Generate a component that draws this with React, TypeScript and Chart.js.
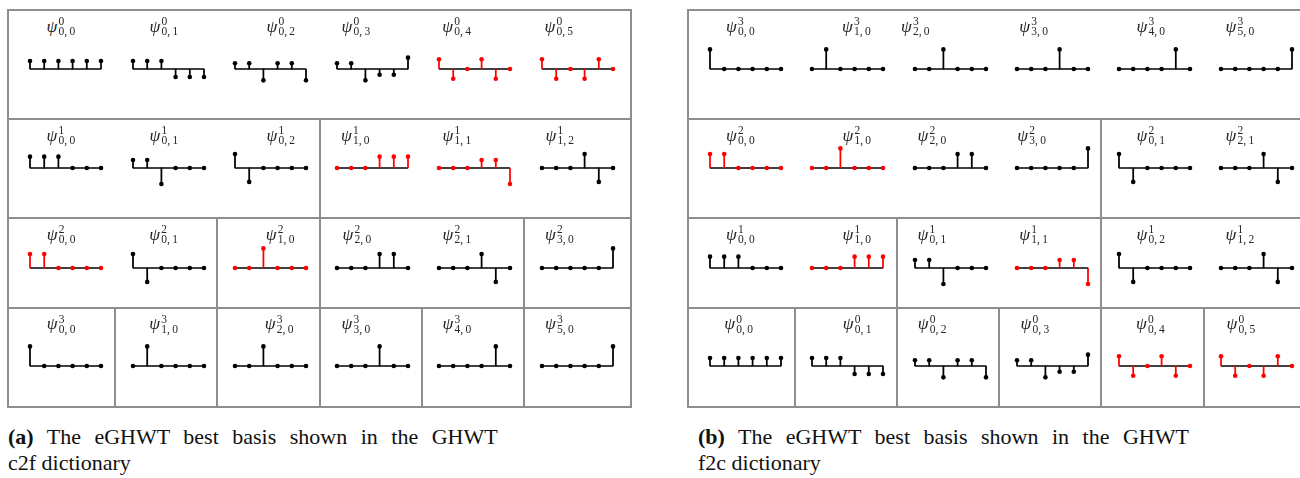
import React, { useEffect, useRef } from "react";
import { Chart, registerables } from "chart.js";

Chart.register(...registerables);

// ---------- data: sample indices and basis vectors ----------
const INDICES = ["1", "2", "3", "4", "5", "6"];

const psi0_00 = [0.41, 0.41, 0.41, 0.41, 0.41, 0.41];
const psi0_01 = [0.41, 0.41, 0.41, -0.41, -0.41, -0.41];
const psi0_02 = [0.29, 0.29, -0.58, 0.29, 0.29, -0.58];
const psi0_03 = [0.29, 0.29, -0.58, -0.29, -0.29, 0.58];
const psi0_04 = [0.5, -0.5, 0, 0.5, -0.5, 0];
const psi0_05 = [0.5, -0.5, 0, -0.5, 0.5, 0];

const psi1_00 = [0.58, 0.58, 0.58, 0, 0, 0];
const psi1_01 = [0.41, 0.41, -0.82, 0, 0, 0];
const psi1_02 = [0.71, -0.71, 0, 0, 0, 0];
const psi1_10 = [0, 0, 0, 0.58, 0.58, 0.58];
const psi1_11 = [0, 0, 0, 0.41, 0.41, -0.82];
const psi1_12 = [0, 0, 0, 0.71, -0.71, 0];

const psi2_00 = [0.71, 0.71, 0, 0, 0, 0];
const psi2_01 = [0.71, -0.71, 0, 0, 0, 0];
const psi2_10 = [0, 0, 1, 0, 0, 0];
const psi2_20 = [0, 0, 0, 0.71, 0.71, 0];
const psi2_21 = [0, 0, 0, 0.71, -0.71, 0];
const psi2_30 = [0, 0, 0, 0, 0, 1];

const psi3_00 = [1, 0, 0, 0, 0, 0];
const psi3_10 = [0, 1, 0, 0, 0, 0];
const psi3_20 = [0, 0, 1, 0, 0, 0];
const psi3_30 = [0, 0, 0, 1, 0, 0];
const psi3_40 = [0, 0, 0, 0, 1, 0];
const psi3_50 = [0, 0, 0, 0, 0, 1];

// the eGHWT best basis (drawn in red)
const BEST_BASIS = ["0|0,4", "0|0,5", "1|1,0", "1|1,1", "2|0,0", "2|1,0"];

const BASIS: Record<string, number[]> = {
  "0|0,0": psi0_00, "0|0,1": psi0_01, "0|0,2": psi0_02, "0|0,3": psi0_03, "0|0,4": psi0_04, "0|0,5": psi0_05,
  "1|0,0": psi1_00, "1|0,1": psi1_01, "1|0,2": psi1_02, "1|1,0": psi1_10, "1|1,1": psi1_11, "1|1,2": psi1_12,
  "2|0,0": psi2_00, "2|0,1": psi2_01, "2|1,0": psi2_10, "2|2,0": psi2_20, "2|2,1": psi2_21, "2|3,0": psi2_30,
  "3|0,0": psi3_00, "3|1,0": psi3_10, "3|2,0": psi3_20, "3|3,0": psi3_30, "3|4,0": psi3_40, "3|5,0": psi3_50,
};

// row contents of each dictionary view
const C2F_ROWS = [
  ["0|0,0", "0|0,1", "0|0,2", "0|0,3", "0|0,4", "0|0,5"],
  ["1|0,0", "1|0,1", "1|0,2", "1|1,0", "1|1,1", "1|1,2"],
  ["2|0,0", "2|0,1", "2|1,0", "2|2,0", "2|2,1", "2|3,0"],
  ["3|0,0", "3|1,0", "3|2,0", "3|3,0", "3|4,0", "3|5,0"],
];
const F2C_ROWS = [
  ["3|0,0", "3|1,0", "3|2,0", "3|3,0", "3|4,0", "3|5,0"],
  ["2|0,0", "2|1,0", "2|2,0", "2|3,0", "2|0,1", "2|2,1"],
  ["1|0,0", "1|1,0", "1|0,1", "1|1,1", "1|0,2", "1|1,2"],
  ["0|0,0", "0|0,1", "0|0,2", "0|0,3", "0|0,4", "0|0,5"],
];

// ---------- layout (pixels) ----------
const GRID_COLOR = "#8e8e8e";
const ROW_TOPS = [10, 119, 218, 307.5];
const PANEL_BOTTOM = 406.5;
const BASELINES = [69, 168.3, 267.5, 365.7];
const COL_X = [22.3, 124.8, 227.2, 329, 431, 533.6];
const DIVIDER_X = [107, 209, 311.5, 413.5, 516];
const PANEL_W = 623;

const C2F_DIVIDERS = [[], [2], [1, 2, 4], [0, 1, 2, 3, 4]];
const F2C_DIVIDERS = [[], [3], [1, 3], [0, 1, 2, 3, 4]];
const C2F_LABEL_DX = [
  [16.7, 17.3, 31.7, 5, 3.7, 3.3],
  [16.7, 17.3, 31.7, 4.4, 4, 4.3],
  [17, 17, 31, 6, 4, 4],
  [17, 17, 30, 5, 4, 4],
];
const F2C_LABEL_DX = [
  [16.7, 30.3, -13.3, 3.3, 18.4, 5],
  [16.7, 30.6, 3.3, 1.3, 18.4, 5],
  [16.7, 30.6, 3.3, 3.3, 18.4, 5],
  [15, 31, 3.5, 4.5, 18, 6],
];

const SPAN = 71; // width from first to last sample
const PAD = 4;
const PX_PER_UNIT = 19.6;
const AREA_H = 44;
const YMAX = AREA_H / 2 / PX_PER_UNIT;
const CW = SPAN + 2 * PAD;
const CH = AREA_H + 2 * PAD;

function StemPlot({ values, color, x, baseline }: { values: number[]; color: string; x: number; baseline: number }) {
  const ref = useRef<HTMLCanvasElement>(null);
  useEffect(() => {
    const chart = new Chart(ref.current as HTMLCanvasElement, {
      type: "bar",
      data: {
        labels: INDICES,
        datasets: [
          {
            type: "line",
            data: values,
            showLine: false,
            pointRadius: 2.3,
            pointBorderWidth: 0,
            pointBackgroundColor: color,
            borderColor: color,
            order: 0,
            clip: false,
          } as any,
          {
            type: "bar",
            data: values,
            backgroundColor: color,
            borderWidth: 0,
            barThickness: 1.1,
            order: 1,
            clip: false,
          } as any,
          {
            type: "line",
            data: values.map(() => 0),
            borderColor: "#000",
            borderWidth: 1.3,
            pointRadius: 0,
            order: 2,
            clip: false,
          } as any,
        ],
      },
      options: {
        responsive: false,
        animation: false,
        events: [],
        layout: { padding: PAD },
        plugins: { legend: { display: false }, tooltip: { enabled: false } },
        scales: {
          x: { display: false, offset: false, grid: { offset: false } },
          y: { display: false, min: -YMAX, max: YMAX },
        },
      },
    });
    return () => chart.destroy();
  }, []);
  return (
    <canvas
      ref={ref}
      width={CW}
      height={CH}
      style={{ position: "absolute", left: Math.round(x - PAD), top: Math.round(baseline - CH / 2), width: CW, height: CH }}
    />
  );
}

function PsiLabel({ id, x, rowTop }: { id: string; x: number; rowTop: number }) {
  const [lvl, sub] = id.split("|");
  const [k, l] = sub.split(",");
  const base: React.CSSProperties = { position: "absolute", whiteSpace: "nowrap", color: "#262626", fontFamily: "'Liberation Serif', serif" };
  return (
    <>
      <span style={{ ...base, left: x - 0.5, top: rowTop + 8.5, fontSize: 17.5, lineHeight: "15px", fontStyle: "italic" }}>ψ</span>
      <span style={{ ...base, left: x + 11.5, top: rowTop + 6, fontSize: 11.5, lineHeight: "11px" }}>{lvl}</span>
      <span style={{ ...base, left: x + 11.5, top: rowTop + 16, fontSize: 11.5, lineHeight: "11px" }}>
        {k},{"\u2009"}{l}
      </span>
    </>
  );
}

function Panel({ left, rows, dividers, labelDx }: { left: number; rows: string[][]; dividers: number[][]; labelDx: number[][] }) {
  const items: React.ReactNode[] = [];
  items.push(
    <div
      key="frame"
      style={{
        position: "absolute",
        left: left - 1,
        top: ROW_TOPS[0] - 1,
        width: PANEL_W + 2,
        height: PANEL_BOTTOM - ROW_TOPS[0] + 2,
        border: `2px solid ${GRID_COLOR}`,
        boxSizing: "border-box",
      }}
    />
  );
  ROW_TOPS.forEach((top, r) => {
    if (r > 0) {
      items.push(
        <div key={`h${r}`} style={{ position: "absolute", left: left, top: top - 1, width: PANEL_W, height: 2, background: GRID_COLOR }} />
      );
    }
    const bottom = r < ROW_TOPS.length - 1 ? ROW_TOPS[r + 1] : PANEL_BOTTOM;
    dividers[r].forEach((d) => {
      items.push(
        <div
          key={`v${r}-${d}`}
          style={{ position: "absolute", left: left + DIVIDER_X[d] - 1, top: top, width: 2, height: bottom - top, background: GRID_COLOR }}
        />
      );
    });
    rows[r].forEach((id, c) => {
      const x = left + COL_X[c];
      const color = BEST_BASIS.includes(id) ? "#ff0000" : "#000000";
      items.push(<StemPlot key={`p${r}-${c}`} values={BASIS[id]} color={color} x={x} baseline={BASELINES[r]} />);
      items.push(<PsiLabel key={`l${r}-${c}`} id={id} x={x + labelDx[r][c]} rowTop={top} />);
    });
  });
  return <>{items}</>;
}

function Caption({ left, tag, line1, line2 }: { left: number; tag: string; line1: string; line2: string }) {
  return (
    <div
      style={{
        position: "absolute",
        left,
        top: 424,
        fontFamily: "'Liberation Serif', 'Times New Roman', serif",
        fontSize: 22,
        lineHeight: "26px",
        color: "#111",
        whiteSpace: "nowrap",
      }}
    >
      <span style={{ wordSpacing: "8px" }}>
        <b>{tag}</b> {line1}
      </span>
      <br />
      {line2}
    </div>
  );
}

export default function App() {
  return (
    <div style={{ position: "absolute", left: 0, top: 0, width: 1300, height: 478, overflow: "hidden", background: "#fff" }}>
      <Panel left={8} rows={C2F_ROWS} dividers={C2F_DIVIDERS} labelDx={C2F_LABEL_DX} />
      <Panel left={687.5} rows={F2C_ROWS} dividers={F2C_DIVIDERS} labelDx={F2C_LABEL_DX} />
      <Caption left={8} tag="(a)" line1="The eGHWT best basis shown in the GHWT" line2="c2f dictionary" />
      <Caption left={698} tag="(b)" line1="The eGHWT best basis shown in the GHWT" line2="f2c dictionary" />
    </div>
  );
}
